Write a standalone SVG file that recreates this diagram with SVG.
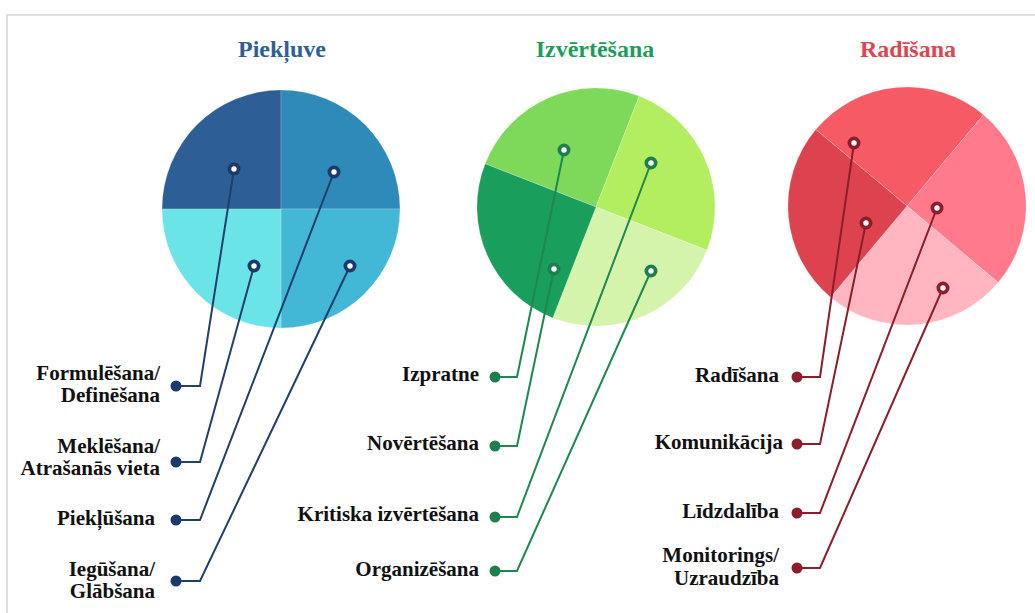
<svg xmlns="http://www.w3.org/2000/svg" width="1035" height="613" viewBox="0 0 1035 613">
<style>
.title{font-family:"Liberation Serif","Times New Roman",serif;font-weight:bold;font-size:24px;text-anchor:middle}
.lbl{font-family:"Liberation Serif","Times New Roman",serif;font-weight:bold;font-size:21px;fill:#111;text-anchor:end}
.slice{stroke:#ffffff;stroke-width:0.5;stroke-opacity:0.4}
.cb{fill:none;stroke:#1F3F6E;stroke-width:2;marker-start:url(#dotB);marker-end:url(#ringB)}
.cg{fill:none;stroke:#1E8752;stroke-width:2;marker-start:url(#dotG);marker-end:url(#ringG)}
.cr{fill:none;stroke:#8B1E2A;stroke-width:2;marker-start:url(#dotR);marker-end:url(#ringR)}
</style>
<defs>
<marker id="dotB" markerUnits="userSpaceOnUse" markerWidth="14" markerHeight="14" refX="7" refY="7" viewBox="0 0 14 14"><circle cx="7" cy="7" r="5.5" fill="#1B3A6B"/></marker>
<marker id="ringB" markerUnits="userSpaceOnUse" markerWidth="16" markerHeight="16" refX="8" refY="8" viewBox="0 0 16 16"><circle cx="8" cy="8" r="4.6" fill="#fff" stroke="#1B3A6B" stroke-width="3.8"/></marker>
<marker id="dotG" markerUnits="userSpaceOnUse" markerWidth="14" markerHeight="14" refX="7" refY="7" viewBox="0 0 14 14"><circle cx="7" cy="7" r="5.5" fill="#1E7F4E"/></marker>
<marker id="ringG" markerUnits="userSpaceOnUse" markerWidth="16" markerHeight="16" refX="8" refY="8" viewBox="0 0 16 16"><circle cx="8" cy="8" r="4.6" fill="#fff" stroke="#1E7F4E" stroke-width="3.8"/></marker>
<marker id="dotR" markerUnits="userSpaceOnUse" markerWidth="14" markerHeight="14" refX="7" refY="7" viewBox="0 0 14 14"><circle cx="7" cy="7" r="5.5" fill="#8B1E2A"/></marker>
<marker id="ringR" markerUnits="userSpaceOnUse" markerWidth="16" markerHeight="16" refX="8" refY="8" viewBox="0 0 16 16"><circle cx="8" cy="8" r="4.6" fill="#fff" stroke="#8B1E2A" stroke-width="3.8"/></marker>
</defs>
<rect width="1035" height="613" fill="#ffffff"/>
<rect x="7" y="15" width="1100" height="700" fill="none" stroke="#dedede" stroke-width="2"/>

<g id="pie-piekluve">
<text class="title" x="282" y="57" fill="#2F5F98">Piekļuve</text>
<path class="slice" d="M281,209 L162,209 A119,119 0 0 1 281,90 Z" fill="#2D5E96"/>
<path class="slice" d="M281,209 L281,90 A119,119 0 0 1 400,209 Z" fill="#2E8AB9"/>
<path class="slice" d="M281,209 L400,209 A119,119 0 0 1 281,328 Z" fill="#42B7D6"/>
<path class="slice" d="M281,209 L281,328 A119,119 0 0 1 162,209 Z" fill="#6BE4E8"/>
</g>
<g id="pie-izvertesana">
<text class="title" x="595" y="57" fill="#1B9E5A">Izvērtēšana</text>
<path class="slice" d="M596,207 L485.1,163.8 A119,119 0 0 1 639.2,96.1 Z" fill="#7ED95A"/>
<path class="slice" d="M596,207 L639.2,96.1 A119,119 0 0 1 706.9,250.2 Z" fill="#B2EE5F"/>
<path class="slice" d="M596,207 L706.9,250.2 A119,119 0 0 1 552.8,317.9 Z" fill="#D5F4AB"/>
<path class="slice" d="M596,207 L552.8,317.9 A119,119 0 0 1 485.1,163.8 Z" fill="#1A9E5B"/>
</g>
<g id="pie-radisana">
<text class="title" x="908" y="57" fill="#E04450">Radīšana</text>
<path class="slice" d="M907,206 L815.8,129.5 A119,119 0 0 1 983.5,114.8 Z" fill="#F55A65"/>
<path class="slice" d="M907,206 L983.5,114.8 A119,119 0 0 1 998.2,282.5 Z" fill="#FF7A8B"/>
<path class="slice" d="M907,206 L998.2,282.5 A119,119 0 0 1 830.5,297.2 Z" fill="#FFB6C1"/>
<path class="slice" d="M907,206 L830.5,297.2 A119,119 0 0 1 815.8,129.5 Z" fill="#DD434E"/>
</g>

<g id="connectors">
<polyline class="cb" points="176,386 200,386 234,169"/>
<polyline class="cb" points="176,462 200,462 254,266"/>
<polyline class="cb" points="176,520 200,520 334,172"/>
<polyline class="cb" points="176,581 200,581 350,266"/>
<polyline class="cg" points="495,377 517,377 564,150"/>
<polyline class="cg" points="495,446 517,446 554,269"/>
<polyline class="cg" points="495,517 517,517 651,163"/>
<polyline class="cg" points="495,571 517,571 651,271"/>
<polyline class="cr" points="797,377 820,377 854,143"/>
<polyline class="cr" points="797,444 820,444 866,223"/>
<polyline class="cr" points="797,513 820,513 937,208"/>
<polyline class="cr" points="797,568 820,568 943,288"/>
</g>

<g id="label-formulesana"><text class="lbl" x="160" y="380">Formulēšana/</text><text class="lbl" x="160" y="402">Definēšana</text></g>
<g id="label-meklesana"><text class="lbl" x="160" y="453">Meklēšana/</text><text class="lbl" x="160" y="475">Atrašanās vieta</text></g>
<g id="label-piekļusana"><text class="lbl" x="155" y="525">Piekļūšana</text></g>
<g id="label-iegusana"><text class="lbl" x="155" y="576">Iegūšana/</text><text class="lbl" x="155" y="598">Glābšana</text></g>
<g id="label-izpratne"><text class="lbl" x="479" y="381">Izpratne</text></g>
<g id="label-novertesana"><text class="lbl" x="479" y="450">Novērtēšana</text></g>
<g id="label-kritiska"><text class="lbl" x="479" y="521">Kritiska izvērtēšana</text></g>
<g id="label-organizesana"><text class="lbl" x="479" y="576">Organizēšana</text></g>
<g id="label-radisana"><text class="lbl" x="779" y="382">Radīšana</text></g>
<g id="label-komunikacija"><text class="lbl" x="783" y="449">Komunikācija</text></g>
<g id="label-lidzdaliba"><text class="lbl" x="779" y="518">Līdzdalība</text></g>
<g id="label-monitorings"><text class="lbl" x="779" y="562">Monitorings/</text><text class="lbl" x="779" y="585">Uzraudzība</text></g>
</svg>
